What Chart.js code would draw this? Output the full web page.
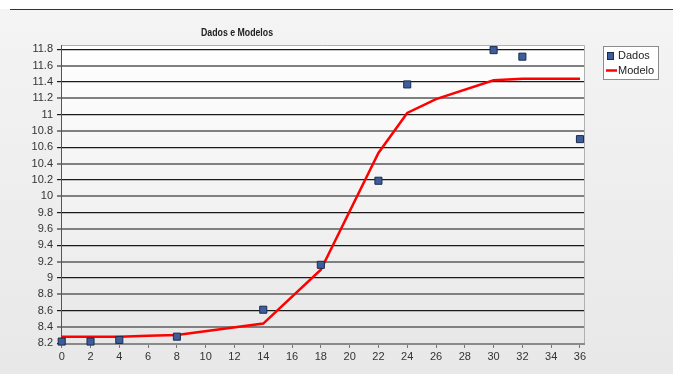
<!DOCTYPE html>
<html>
<head>
<meta charset="utf-8">
<script src="https://cdn.jsdelivr.net/npm/chart.js@4.4.0/dist/chart.umd.min.js"></script>
<style>
  html, body { margin: 0; padding: 0; background: #fff; }
  #wrap { width: 673px; height: 374px; position: relative; }
</style>
</head>
<body>
<div id="wrap"><canvas id="chart" width="673" height="374"></canvas></div>
<script>
  // data
  const dadosX = [0, 2, 4, 8, 14, 18, 22, 24, 30, 32, 36];
  const dadosY = [8.22, 8.22, 8.24, 8.28, 8.61, 9.16, 10.19, 11.37, 11.79, 11.71, 10.70];
  const modeloX = [0, 2, 4, 6, 8, 14, 18, 22, 24, 26, 30, 32, 36];
  const modeloY = [8.28, 8.28, 8.28, 8.29, 8.30, 8.44, 9.10, 10.53, 11.02, 11.19, 11.42, 11.44, 11.44];
  const xTicks = [0, 2, 4, 6, 8, 10, 12, 14, 16, 18, 20, 22, 24, 26, 28, 30, 32, 34, 36];
  const yTicks = [8.2, 8.4, 8.6, 8.8, 9, 9.2, 9.4, 9.6, 9.8, 10, 10.2, 10.4, 10.6, 10.8, 11, 11.2, 11.4, 11.6, 11.8];
  const title = "Dados e Modelos";
  const legendLabels = ["Dados", "Modelo"];

  const FONT = "'Liberation Sans', Arial, sans-serif";
  const BLUE = "#3d5d9b";
  const BLUE_EDGE = "#1c2c4c";

  const decor = {
    id: "decor",
    beforeDraw(chart) {
      const { ctx, chartArea: a } = chart;
      ctx.save();
      // page background
      let g = ctx.createLinearGradient(0, 10, 0, 374);
      g.addColorStop(0, "#f4f4f4");
      g.addColorStop(1, "#e8e8e8");
      ctx.fillStyle = g;
      ctx.fillRect(0, 0, 673, 374);
      ctx.fillStyle = "#ffffff";
      ctx.fillRect(0, 0, 673, 9);
      ctx.fillStyle = "#333";
      ctx.fillRect(10, 9, 663, 1);
      // plot background
      g = ctx.createLinearGradient(0, a.top, 0, a.bottom);
      g.addColorStop(0, "#ffffff");
      g.addColorStop(1, "#e7e7e7");
      ctx.fillStyle = g;
      ctx.fillRect(a.left, a.top, a.right - a.left, a.bottom - a.top);
      ctx.strokeStyle = "#b0b0b0";
      ctx.lineWidth = 1;
      ctx.beginPath();
      ctx.moveTo(a.left, a.top + 0.5);
      ctx.lineTo(a.right + 0.5, a.top + 0.5);
      ctx.lineTo(a.right + 0.5, a.bottom);
      ctx.stroke();
      // title, squeezed to the narrow face of the original
      ctx.fillStyle = "#222";
      ctx.font = "bold 11.5px " + FONT;
      ctx.textAlign = "center";
      ctx.textBaseline = "middle";
      const sx = 72 / ctx.measureText(title).width;
      ctx.translate(237, 33);
      ctx.scale(sx, 1);
      ctx.fillText(title, 0, 0);
      ctx.restore();
    },
    afterDraw(chart) {
      const ctx = chart.ctx;
      ctx.save();
      // legend box
      ctx.fillStyle = "#ffffff";
      ctx.fillRect(603, 46, 56, 34);
      ctx.strokeStyle = "#8c8c8c";
      ctx.lineWidth = 1;
      ctx.strokeRect(603.5, 46.5, 55, 33);
      ctx.fillStyle = BLUE;
      ctx.fillRect(607, 52, 7, 8);
      ctx.strokeStyle = BLUE_EDGE;
      ctx.strokeRect(607.5, 52.5, 6, 7);
      ctx.strokeStyle = "#ff0000";
      ctx.lineWidth = 2.5;
      ctx.beginPath();
      ctx.moveTo(606, 70.5);
      ctx.lineTo(617, 70.5);
      ctx.stroke();
      ctx.fillStyle = "#222";
      ctx.font = "11px " + FONT;
      ctx.textAlign = "left";
      ctx.textBaseline = "middle";
      ctx.fillText(legendLabels[0], 618, 56);
      ctx.fillText(legendLabels[1], 618, 71);
      ctx.restore();
    }
  };

  new Chart(document.getElementById("chart"), {
    type: "scatter",
    data: {
      datasets: [
        {
          label: legendLabels[1],
          data: modeloX.map((x, i) => ({ x, y: modeloY[i] })),
          showLine: true,
          borderColor: "#ff0000",
          borderWidth: 2.5,
          pointRadius: 0,
          tension: 0,
          order: 2,
        },
        {
          label: legendLabels[0],
          data: dadosX.map((x, i) => ({ x, y: dadosY[i] })),
          pointStyle: "rect",
          pointRadius: 5,
          backgroundColor: BLUE,
          borderColor: BLUE_EDGE,
          borderWidth: 1,
          clip: false,
          order: 1,
        },
      ],
    },
    options: {
      responsive: false,
      animation: false,
      events: [],
      layout: { padding: { top: 45, right: 89, bottom: 0, left: 0 } },
      plugins: { legend: { display: false }, title: { display: false }, tooltip: { enabled: false } },
      scales: {
        x: {
          type: "linear",
          min: -0.05,
          max: 36.28,
          afterBuildTicks: (s) => { s.ticks = xTicks.map((v) => ({ value: v })); },
          afterFit: (s) => { s.height = 30; },
          grid: { drawOnChartArea: false, drawTicks: true, tickLength: 4, color: "#777" },
          border: { color: "#8a8a8a", width: 2 },
          ticks: { color: "#333", font: { family: FONT, size: 11 }, padding: 2, maxRotation: 0, autoSkip: false },
        },
        y: {
          min: 8.19,
          max: 11.853,
          afterBuildTicks: (s) => { s.ticks = yTicks.map((v) => ({ value: v })); },
          afterFit: (s) => { s.width = 61; },
          grid: {
            color: (c) => (c.index % 2 === 0 ? "#1a1a1a" : "#808080"),
            lineWidth: (c) => (c.index % 2 === 0 ? 1.2 : 2),
            tickLength: 4,
          },
          border: { color: "#555", width: 1 },
          ticks: {
            color: "#333",
            font: { family: FONT, size: 11 },
            padding: 4,
            autoSkip: false,
            callback: (v) => String(Math.round(v * 10) / 10),
          },
        },
      },
    },
    plugins: [decor],
  });
</script>
</body>
</html>
